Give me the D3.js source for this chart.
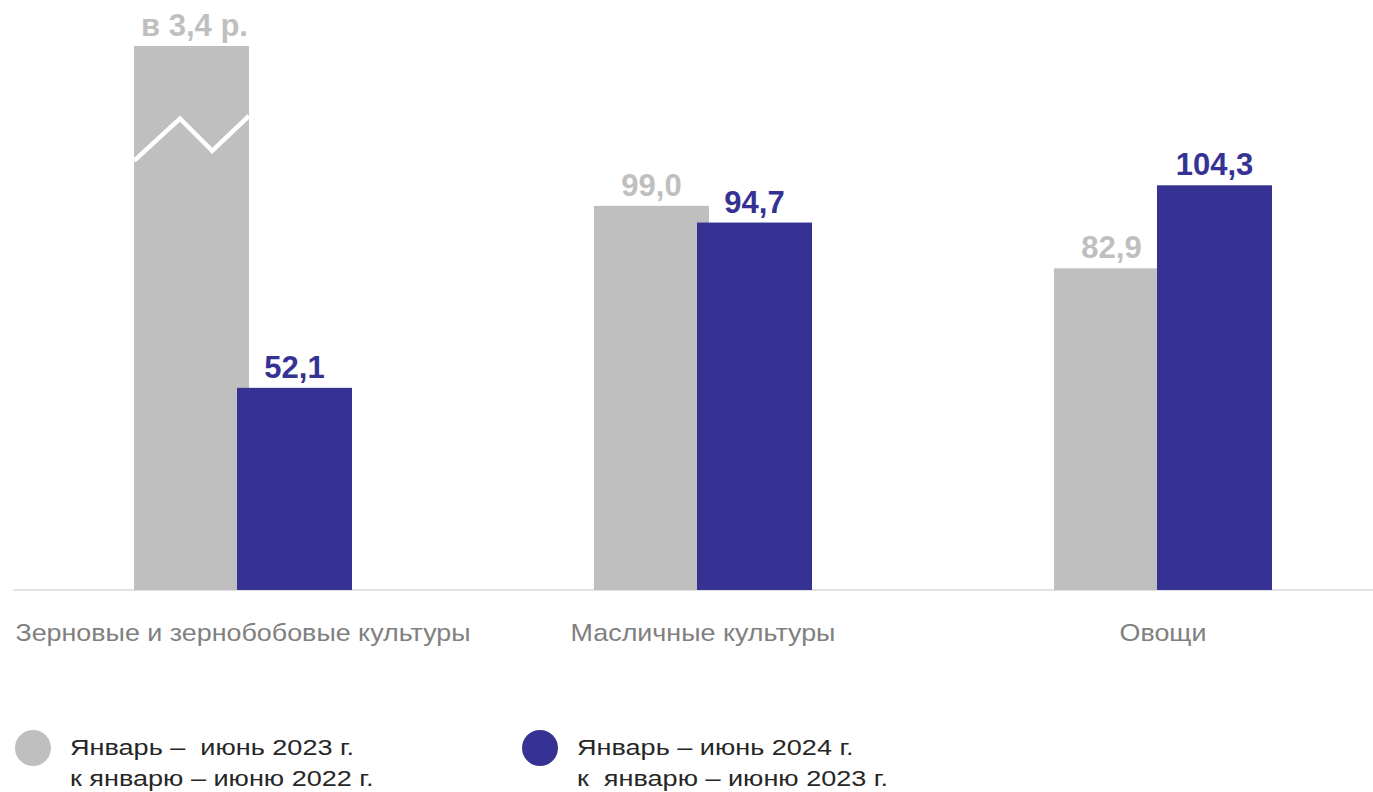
<!DOCTYPE html>
<html><head><meta charset="utf-8">
<script src="https://cdn.jsdelivr.net/npm/d3@7"></script>
<style>html,body{margin:0;padding:0;background:#fff;}svg{display:block;}text{white-space:pre;}</style>
</head><body>
<svg id="chart" width="1373" height="792"></svg>
<script>
const categories = ["Зерновые и зернобобовые культуры", "Масличные культуры", "Овощи"];
const values2023 = [340, 99.0, 82.9];
const values2024 = [52.1, 94.7, 104.3];
const labels2023 = ["в 3,4 р.", "99,0", "82,9"];
const labels2024 = ["52,1", "94,7", "104,3"];
const legendLabels = [["Январь –  июнь 2023 г.", "к январю – июню 2022 г."], ["Январь – июнь 2024 г.", "к  январю – июню 2023 г."]];

const colors = ["#bfbfbf", "#363294"];
const svg = d3.select("#chart");
const font = "'Liberation Sans', Arial, sans-serif";

const x = d3.scaleBand().domain(categories).range([13, 1393]).padding(0);
const y = d3.scaleLinear().domain([0, 140.2]).range([590, 46]);
const yMax = 140.2;
const barW = 115, offset = 103;

// axis baseline
svg.append("line").attr("x1", 13).attr("x2", 1373).attr("y1", y(0)).attr("y2", y(0))
  .attr("stroke", "#d9d9d9").attr("stroke-width", 1.5);

const series = [values2023, values2024];
const seriesLabels = [labels2023, labels2024];
series.forEach((vals, si) => {
  categories.forEach((c, i) => {
    const gx = x(c) + x.bandwidth() / 2 - (offset + barW) / 2 + si * offset;
    const v = Math.min(vals[i], yMax);
    svg.append("rect").attr("x", gx).attr("y", y(v)).attr("width", barW)
      .attr("height", y(0) - y(v)).attr("fill", colors[si]);
    svg.append("text").attr("x", gx + barW / 2 + (vals[i] > yMax ? 3 : 0)).attr("y", y(v) - 10)
      .attr("text-anchor", "middle").attr("font-family", font).attr("font-weight", "bold")
      .attr("font-size", 31).attr("fill", colors[si]).text(seriesLabels[si][i]);
    if (vals[i] > yMax) {
      // scale-break zigzag
      const bx = gx, bw = barW;
      const pts = [[bx, y(110.6)], [bx + bw * 0.4, y(121.5)], [bx + bw * 0.68, y(113.2)], [bx + bw, y(122.2)]];
      svg.append("path").attr("d", d3.line()(pts)).attr("fill", "none")
        .attr("stroke", "#fff").attr("stroke-width", 4.5);
    }
  });
});

// category labels (slightly widened like the original)
svg.selectAll("text.cat").data(categories).enter().append("text")
  .attr("class", "cat")
  .attr("transform", d => `translate(${x(d) + x.bandwidth() / 2},641) scale(1.12,1)`)
  .attr("text-anchor", "middle").attr("font-family", font).attr("font-size", 24)
  .attr("fill", "#808080").text(d => d);

// legend
const legX = [33, 540];
legendLabels.forEach((lines, i) => {
  svg.append("circle").attr("cx", legX[i]).attr("cy", 748).attr("r", 18).attr("fill", colors[i]);
  lines.forEach((t, j) => {
    svg.append("text")
      .attr("transform", `translate(${legX[i] + 37},${755 + j * 31}) scale(1.23,1)`)
      .attr("font-family", font)
      .attr("font-size", 22).attr("fill", "#262626").text(t);
  });
});
</script>
</body></html>
